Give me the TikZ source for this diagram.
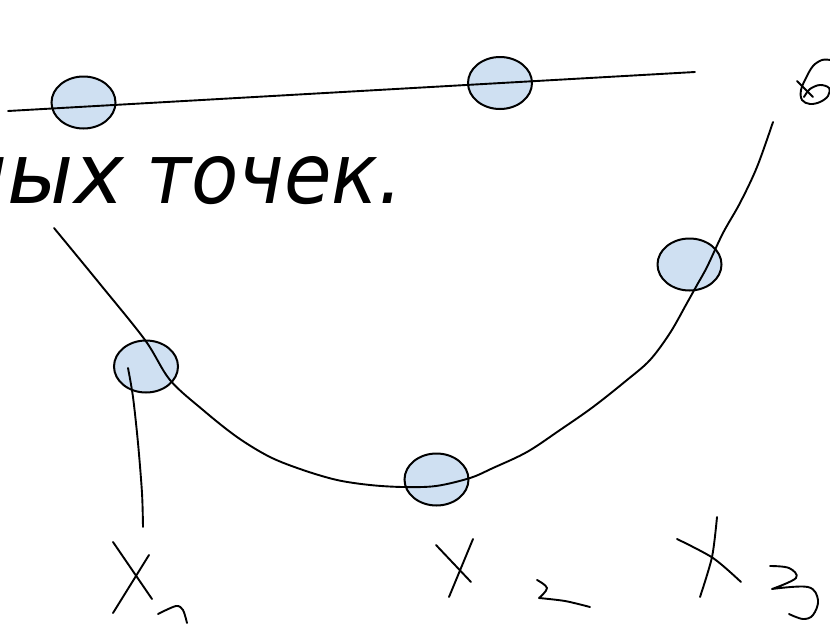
\documentclass[tikz,border=0pt]{standalone}
\usepackage{fontspec}
\usepackage{graphicx}
\newfontfamily\djv{DejaVu Sans}
\usetikzlibrary{shapes.geometric}
\definecolor{ptfill}{RGB}{207,224,242}
\begin{document}
\begin{tikzpicture}[x=1pt,y=-1pt,
  pt/.style={ellipse, draw, line width=2pt, fill=ptfill, minimum width=64pt, minimum height=52pt, inner sep=0pt},
  stroke/.style={line width=1.9pt, line cap=round, line join=round},
  bigtext/.style={inner sep=0pt, font=\djv\itshape\fontsize{84}{84}\selectfont}]
\useasboundingbox (0,0) rectangle (830,624);
\fill[white] (0,0) rectangle (830,624);
% text
\node[bigtext, anchor=base east] (w1) at (124,203) {ных};
\node[bigtext, anchor=base east] (w2) at (403,203) {\scalebox{0.92}[1]{точек.}};
% points
\node[pt] (p1) at (83.5,102.5) {};
\node[pt] (p2) at (500,83) {};
\node[pt] (q1) at (146,366.5) {};
\node[pt] (q2) at (436.5,479.5) {};
\node[pt] (q3) at (689.5,264.5) {};
% straight line
\draw[stroke] (8,111) -- (695,72);
% curve
\draw[stroke] plot[smooth, tension=0.55] coordinates {(54,228) (100,284) (145,340) (170,380) (203,410) (237,437) (270,457) (303,470) (337,480) (370,485) (403,487) (436,486) (470,478) (493,468) (527,452) (560,430) (593,407) (627,380) (650,360) (670,333) (687,303) (697,285) (707,267) (723,233) (740,203) (757,167) (773,122)};
% stroke from q1 down
\draw[stroke] plot[smooth] coordinates {(128,368) (133,397) (138,443) (142,493) (143,527)};
% X1
\draw[stroke] (113,542) -- (152,599);
\draw[stroke] (149,555) -- (113,613);
\draw[stroke] plot[smooth] coordinates {(158,614) (176,606) (183,610) (187,623)};
% X2
\draw[stroke] (436,545) -- (471,582);
\draw[stroke] (473,539) -- (449,597);
\draw[stroke] plot[smooth, tension=0.6] coordinates {(537,580) (547,588) (539,598)} -- plot[smooth] coordinates {(539,598) (565,601) (590,607)};
% X3
\draw[stroke] plot[smooth] coordinates {(677,539) (713,558) (741,582)};
\draw[stroke] plot[smooth] coordinates {(717,517) (712,557) (700,597)};
\draw[stroke] plot[smooth, tension=0.6] coordinates {(770,566) (789,568) (796,578) (772,589)} -- plot[smooth, tension=0.6] coordinates {(772,589) (808,587) (818,600) (813,615) (803,619) (789,614)};
% curl top right
\draw[stroke] (797,81) -- (813,97);
\draw[stroke] plot[smooth, tension=0.6] coordinates {(830,60) (822,60) (813,66) (806,78) (801,90) (802,100) (810,104) (820,102) (828,96) (829,88) (820,85) (810,89) (804,97)};
\end{tikzpicture}
\end{document}
